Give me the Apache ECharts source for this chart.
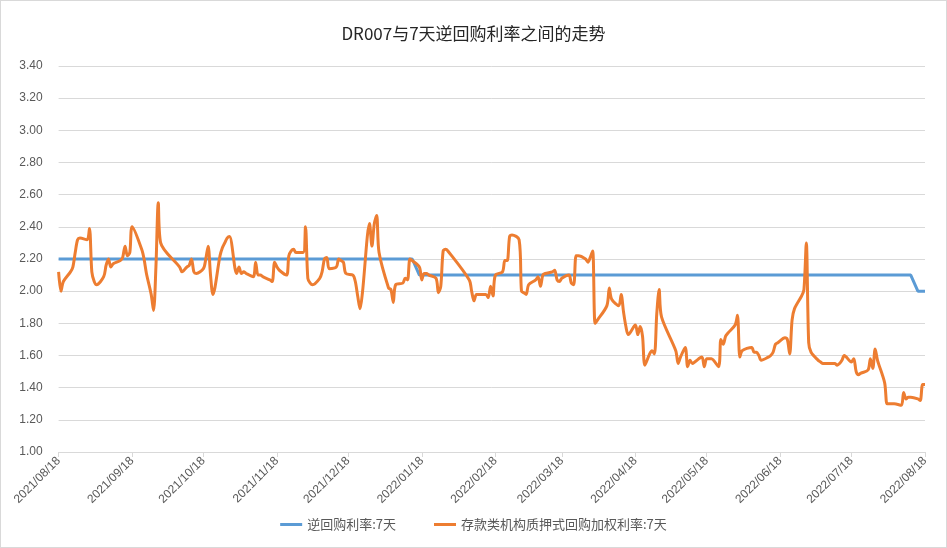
<!DOCTYPE html>
<html>
<head>
<meta charset="utf-8">
<script src="https://cdn.jsdelivr.net/npm/echarts@6/dist/echarts.min.js"></script>
<style>
html,body{margin:0;padding:0;background:#fff;}
#chart{width:947px;height:548px;box-sizing:border-box;border:1px solid #d9d9d9;}
</style>
</head>
<body>
<div id="chart"></div>
<script>
// ---- data ----
const titleText = 'DR007与7天逆回购利率之间的走势';
const seriesNames = ['逆回购利率:7天', '存款类机构质押式回购加权利率:7天'];
const xTickLabels = ['2021/08/18','2021/09/18','2021/10/18','2021/11/18','2021/12/18','2022/01/18','2022/02/18','2022/03/18','2022/04/18','2022/05/18','2022/06/18','2022/07/18','2022/08/18'];
const yTickValues = [1.00,1.20,1.40,1.60,1.80,2.00,2.20,2.40,2.60,2.80,3.00,3.20,3.40];

const repoDates = ['2021-08-18','2022-01-14','2022-01-17','2022-08-12','2022-08-15','2022-08-18'];
const repoValues = [2.20, 2.20, 2.10, 2.10, 2.00, 2.00];

const drDates = [
'2021-08-18','2021-08-19','2021-08-20','2021-08-23','2021-08-24','2021-08-25','2021-08-26','2021-08-27','2021-08-30','2021-08-31',
'2021-09-01','2021-09-02','2021-09-03','2021-09-06','2021-09-07','2021-09-08','2021-09-09','2021-09-10','2021-09-13','2021-09-14',
'2021-09-15','2021-09-16','2021-09-17','2021-09-18','2021-09-22','2021-09-23','2021-09-24','2021-09-26','2021-09-27','2021-09-28',
'2021-09-29','2021-09-30','2021-10-08','2021-10-09','2021-10-11','2021-10-12','2021-10-13','2021-10-14','2021-10-15','2021-10-18',
'2021-10-19','2021-10-20','2021-10-21','2021-10-22','2021-10-25','2021-10-26','2021-10-27','2021-10-28','2021-10-29','2021-11-01',
'2021-11-02','2021-11-03','2021-11-04','2021-11-05','2021-11-08','2021-11-09','2021-11-10','2021-11-11','2021-11-12','2021-11-15',
'2021-11-16','2021-11-17','2021-11-18','2021-11-19','2021-11-22','2021-11-23','2021-11-24','2021-11-25','2021-11-26','2021-11-29',
'2021-11-30','2021-12-01','2021-12-02','2021-12-03','2021-12-06','2021-12-07','2021-12-08','2021-12-09','2021-12-10','2021-12-13',
'2021-12-14','2021-12-15','2021-12-16','2021-12-17','2021-12-20','2021-12-21','2021-12-22','2021-12-23','2021-12-24','2021-12-27',
'2021-12-28','2021-12-29','2021-12-30','2021-12-31','2022-01-04','2022-01-05','2022-01-06','2022-01-07','2022-01-10','2022-01-11',
'2022-01-12','2022-01-13','2022-01-14','2022-01-17','2022-01-18','2022-01-19','2022-01-20','2022-01-21','2022-01-24','2022-01-25',
'2022-01-26','2022-01-27','2022-01-28','2022-01-29','2022-02-07','2022-02-08','2022-02-09','2022-02-10','2022-02-11','2022-02-14',
'2022-02-15','2022-02-16','2022-02-17','2022-02-18','2022-02-21','2022-02-22','2022-02-23','2022-02-24','2022-02-25','2022-02-28',
'2022-03-01','2022-03-02','2022-03-03','2022-03-04','2022-03-07','2022-03-08','2022-03-09','2022-03-10','2022-03-11','2022-03-14',
'2022-03-15','2022-03-16','2022-03-17','2022-03-18','2022-03-21','2022-03-22','2022-03-23','2022-03-24','2022-03-25','2022-03-28',
'2022-03-29','2022-03-30','2022-03-31','2022-04-01','2022-04-02','2022-04-06','2022-04-07','2022-04-08','2022-04-11','2022-04-12',
'2022-04-13','2022-04-14','2022-04-15','2022-04-18','2022-04-19','2022-04-20','2022-04-21','2022-04-22','2022-04-24','2022-04-25',
'2022-04-26','2022-04-27','2022-04-28','2022-04-29','2022-05-05','2022-05-06','2022-05-07','2022-05-09','2022-05-10','2022-05-11',
'2022-05-12','2022-05-13','2022-05-16','2022-05-17','2022-05-18','2022-05-19','2022-05-20','2022-05-23','2022-05-24','2022-05-25',
'2022-05-26','2022-05-27','2022-05-30','2022-05-31','2022-06-01','2022-06-02','2022-06-06','2022-06-07','2022-06-08','2022-06-09',
'2022-06-10','2022-06-13','2022-06-14','2022-06-15','2022-06-16','2022-06-17','2022-06-20','2022-06-21','2022-06-22','2022-06-23',
'2022-06-24','2022-06-27','2022-06-28','2022-06-29','2022-06-30','2022-07-01','2022-07-04','2022-07-05','2022-07-06','2022-07-07',
'2022-07-08','2022-07-11','2022-07-12','2022-07-13','2022-07-14','2022-07-15','2022-07-18','2022-07-19','2022-07-20','2022-07-21',
'2022-07-22','2022-07-25','2022-07-26','2022-07-27','2022-07-28','2022-07-29','2022-08-01','2022-08-02','2022-08-03','2022-08-04',
'2022-08-05','2022-08-08','2022-08-09','2022-08-10','2022-08-11','2022-08-12','2022-08-15','2022-08-16','2022-08-17','2022-08-18'
];
const drValues = [
2.12,2.00,2.06,2.12,2.15,2.24,2.32,2.33,2.32,2.39,
2.12,2.06,2.04,2.09,2.16,2.20,2.15,2.17,2.19,2.21,
2.28,2.22,2.24,2.40,2.26,2.20,2.11,1.98,1.88,2.15,
2.55,2.30,2.15,2.12,2.15,2.16,2.20,2.12,2.11,2.14,
2.20,2.28,2.10,1.98,2.22,2.27,2.30,2.33,2.34,2.11,
2.15,2.11,2.12,2.11,2.09,2.18,2.10,2.10,2.09,2.07,
2.06,2.18,2.15,2.13,2.10,2.22,2.25,2.26,2.24,2.24,
2.40,2.08,2.05,2.04,2.08,2.12,2.20,2.21,2.14,2.15,
2.20,2.19,2.18,2.11,2.10,2.06,1.97,1.89,1.99,2.42,
2.28,2.42,2.47,2.24,2.02,2.01,1.93,2.04,2.05,2.08,
2.07,2.20,2.19,2.15,2.07,2.11,2.11,2.10,2.08,1.99,
2.03,2.25,2.26,2.25,2.07,2.00,1.94,1.98,1.98,1.98,
1.96,2.03,1.97,2.10,2.12,2.19,2.19,2.34,2.35,2.32,
2.00,1.99,1.98,2.04,2.07,2.09,2.03,2.10,2.11,2.12,
2.13,2.07,2.06,2.08,2.10,2.05,2.04,2.22,2.22,2.20,
2.18,2.21,2.25,1.80,1.82,1.91,2.02,1.95,1.91,1.98,
1.87,1.78,1.73,1.79,1.73,1.78,1.72,1.54,1.61,1.63,
1.61,1.86,2.01,1.84,1.63,1.55,1.59,1.65,1.53,1.57,
1.55,1.56,1.59,1.53,1.58,1.58,1.58,1.53,1.70,1.67,
1.72,1.74,1.79,1.85,1.59,1.63,1.65,1.62,1.62,1.60,
1.57,1.59,1.60,1.62,1.67,1.68,1.71,1.70,1.61,1.82,
1.89,1.97,2.01,2.30,1.68,1.62,1.57,1.56,1.55,1.55,
1.55,1.55,1.54,1.55,1.57,1.60,1.56,1.58,1.50,1.48,
1.49,1.51,1.58,1.52,1.64,1.57,1.43,1.30,1.30,1.30,
1.30,1.29,1.37,1.33,1.34,1.34,1.33,1.32,1.42,1.42
];

// ---- build ----
function toTs(s){ const p = s.split(/[-\/]/).map(Number); return Date.UTC(p[0], p[1]-1, p[2]); }
function pad(n){ return (n<10?'0':'')+n; }
const tickTs = xTickLabels.map(toTs);
const repoData = repoDates.map((d,i)=>[toTs(d), repoValues[i]]);
const drData = drDates.map((d,i)=>[toTs(d), drValues[i]]);

const chart = echarts.init(document.getElementById('chart'), null, {renderer:'canvas'});
const axisFont = 'Liberation Sans, Arial, sans-serif';
chart.setOption({
  backgroundColor:'#ffffff',
  animation:false,
  title:{
    text:titleText, left:'center', top:19,
    textStyle:{fontSize:17, fontWeight:'normal', color:'#262626', fontFamily:'Noto Sans CJK SC, sans-serif'}
  },
  legend:{
    bottom:11, left:'center', icon:'rect', itemWidth:22, itemHeight:3, itemGap:38,
    textStyle:{fontSize:13, color:'#595959', fontFamily:'Noto Sans CJK SC, sans-serif'},
    data:seriesNames
  },
  grid:{left:57.6, right:21, top:65, bottom:95},
  xAxis:{
    type:'value',
    min:tickTs[0], max:tickTs[tickTs.length-1],
    axisLine:{show:true, lineStyle:{color:'#d9d9d9', width:1}},
    axisTick:{show:true, length:5, lineStyle:{color:'#d9d9d9'}, customValues:tickTs},
    splitLine:{show:false},
    axisLabel:{
      customValues:tickTs, rotate:45, margin:7, fontSize:12, color:'#595959', fontFamily:axisFont,
      formatter:function(v){ const i = tickTs.indexOf(v); return i>=0 ? xTickLabels[i] : ''; }
    }
  },
  yAxis:{
    type:'value', min:yTickValues[0], max:yTickValues[yTickValues.length-1], interval:0.2,
    axisLine:{show:false}, axisTick:{show:false},
    splitLine:{lineStyle:{color:'#d9d9d9', width:1}},
    axisLabel:{fontSize:12, color:'#595959', margin:16, fontFamily:axisFont, formatter:v=>v.toFixed(2)}
  },
  series:[
    {name:seriesNames[0], type:'line', data:repoData, showSymbol:false, symbol:'none',
     lineStyle:{color:'#5B9BD5', width:3}, itemStyle:{color:'#5B9BD5'}},
    {name:seriesNames[1], type:'line', data:drData, showSymbol:false, symbol:'none', smooth:0.3,
     lineStyle:{color:'#ED7D31', width:3}, itemStyle:{color:'#ED7D31'}}
  ]
});
</script>
</body>
</html>
